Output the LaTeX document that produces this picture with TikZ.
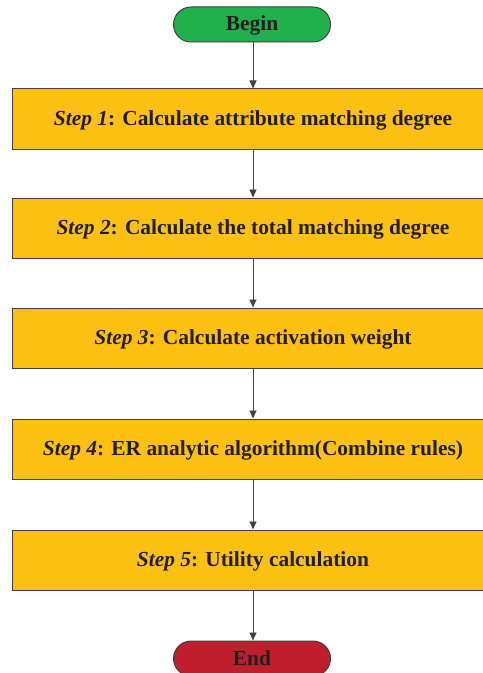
\documentclass[tikz,border=0pt]{standalone}
\usepackage{fontspec}
\setmainfont{Liberation Serif}
\usetikzlibrary{arrows.meta}
\definecolor{bgreen}{HTML}{21B14C}
\definecolor{byellow}{HTML}{FCC013}
\definecolor{bred}{HTML}{BE1E2D}
\definecolor{txt}{HTML}{231F20}
\begin{document}
\begin{tikzpicture}[x=1bp,y=-1bp,
  stepbox/.style={draw=txt!85,line width=1bp,fill=byellow,minimum width=480bp,minimum height=60bp,inner sep=0pt,text height=15bp,text depth=2bp,font=\fontsize{21.5}{24}\selectfont\bfseries,text=txt},
  term/.style={draw=txt!85,line width=1bp,minimum width=157bp,minimum height=35bp,rounded corners=17.5bp,inner sep=0pt,text height=15bp,text depth=2bp,font=\fontsize{21.5}{24}\selectfont\bfseries,text=txt},
  conn/.style={draw=txt!85,line width=0.9bp,-{Triangle[length=8bp,width=7bp]}}]
\useasboundingbox (0,0) rectangle (483,673);
\clip (0,0) rectangle (483,673);
\node[term,fill=bgreen] (begin) at (252,24.5) {Begin};
\node[stepbox] (s1) at (253,119) {\textit{Step 1}: Calculate attribute matching degree};
\node[stepbox] (s2) at (253,228) {\textit{Step 2}: Calculate the total matching degree};
\node[stepbox] (s3) at (253,338) {\textit{Step 3}: Calculate activation weight};
\node[stepbox] (s4) at (253,449) {\textit{Step 4}: ER analytic algorithm(Combine rules)};
\node[stepbox] (s5) at (253,560) {\textit{Step 5}: Utility calculation};
\node[term,fill=bred] (end) at (252,658.5) {End};
\draw[conn] (begin.south -| s1.north) -- (s1.north);
\draw[conn] (s1) -- (s2);
\draw[conn] (s2) -- (s3);
\draw[conn] (s3) -- (s4);
\draw[conn] (s4) -- (s5);
\draw[conn] (s5.south) -- (s5.south |- end.north);
\end{tikzpicture}
\end{document}
